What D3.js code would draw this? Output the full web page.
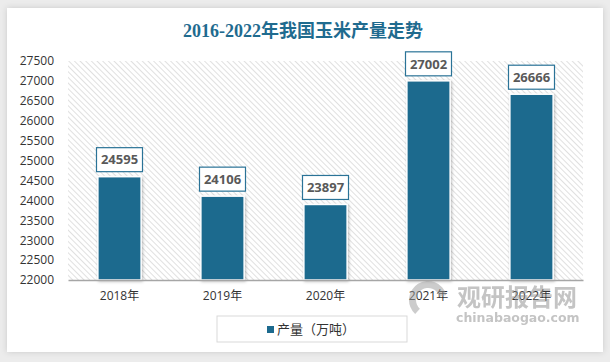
<!DOCTYPE html>
<html>
<head>
<meta charset="utf-8">
<script src="https://cdn.jsdelivr.net/npm/d3@7"></script>
<style>
  body { margin: 0; background: #ececec; }
  svg { display: block; }
</style>
</head>
<body>
<svg id="chart" width="610" height="362"></svg>
<script>
// data
var years = ["2018年", "2019年", "2020年", "2021年", "2022年"];
var output = [24595, 24106, 23897, 27002, 26666];
var yTicks = [22000, 22500, 23000, 23500, 24000, 24500, 25000, 25500, 26000, 26500, 27000, 27500];
var title = "2016-2022年我国玉米产量走势";
var seriesName = "产量（万吨）";

var svg = d3.select('#chart');
var margin = { top: 61, left: 68, bottom: 82, right: 27 };
var width = 610, height = 362;
var barColor = "#1c6a8e";

var defs = svg.append("defs");
var f = defs.append("filter").attr("id", "shadow").attr("x", "-10%").attr("y", "-10%").attr("width", "130%").attr("height", "130%");
f.append("feDropShadow").attr("dx", 1).attr("dy", 1).attr("stdDeviation", 1.5).attr("flood-color", "#000").attr("flood-opacity", 0.25);
var f2 = defs.append("filter").attr("id", "cardshadow").attr("x", "-5%").attr("y", "-5%").attr("width", "110%").attr("height", "110%");
f2.append("feDropShadow").attr("dx", 0).attr("dy", 0).attr("stdDeviation", 3).attr("flood-color", "#000").attr("flood-opacity", 0.15);

var pat = defs.append("pattern").attr("id", "hatch").attr("patternUnits", "userSpaceOnUse")
    .attr("width", 4).attr("height", 4).attr("patternTransform", "rotate(-45)");
pat.append("rect").attr("width", 4).attr("height", 4).attr("fill", "#ffffff");
pat.append("line").attr("x1", 0).attr("y1", 0).attr("x2", 0).attr("y2", 4)
    .attr("stroke", "#cfcfcf").attr("stroke-width", 1.3);

// card
svg.append("rect").attr("x", 7).attr("y", 8).attr("width", 596).attr("height", 344)
    .attr("fill", "#fff").attr("filter", "url(#cardshadow)");

svg.append("text")
    .attr("x", 303).attr("y", 37)
    .attr("text-anchor", "middle")
    .style("font-family", "'Liberation Serif', 'Noto Sans CJK SC', serif")
    .style("font-weight", "bold")
    .style("font-size", "18px")
    .style("fill", "#1f6b8f")
    .text(title);

var innerW = width - margin.left - margin.right;
var innerH = height - margin.top - margin.bottom;

var x = d3.scaleBand().domain(years).range([0, innerW]).paddingInner(0.58).paddingOuter(0.29);
var y = d3.scaleLinear().domain([22000, 27500]).range([innerH, 0]);

var g = svg.append("g").attr("transform", "translate(" + [margin.left, margin.top] + ")");

g.append("rect").attr("width", innerW).attr("height", innerH).attr("fill", "url(#hatch)");

// y axis labels
var yAxis = d3.axisLeft(y).tickValues(yTicks).tickSize(0).tickPadding(14).tickFormat(d3.format("d"));
var ya = g.append("g").call(yAxis);
ya.select(".domain").remove();
ya.selectAll("text").style("font-family", "'Open Sans', 'Noto Sans', sans-serif").style("font-size", "12px").style("fill", "#333");

// bars
g.selectAll(".bar")
    .data(output)
    .enter().append("rect")
    .attr("class", "bar")
    .attr("x", function (d, i) { return x(years[i]); })
    .attr("y", function (d) { return y(d); })
    .attr("width", x.bandwidth())
    .attr("height", function (d) { return innerH - y(d); })
    .attr("fill", barColor)
    .attr("stroke", "#fff")
    .attr("stroke-width", 1.5)
    .attr("filter", "url(#shadow)");

// x axis
var xAxis = d3.axisBottom(x).tickSize(0).tickPadding(11);
var xa = g.append("g").attr("transform", "translate(0," + innerH + ")").call(xAxis);
xa.select(".domain").attr("stroke", "#a6a6a6").attr("stroke-width", 1.5);
xa.selectAll("text").style("font-family", "'Open Sans', 'Noto Sans CJK SC', sans-serif").style("font-size", "12px").style("fill", "#333");

// value labels
var lab = g.selectAll(".lab").data(output).enter().append("g")
    .attr("transform", function (d, i) { return "translate(" + (x(years[i]) + x.bandwidth() / 2) + "," + (y(d) - 17) + ")"; });
lab.append("rect").attr("x", -23).attr("y", -12).attr("width", 46).attr("height", 24)
    .attr("fill", "#fff").attr("stroke", "#2a7397").attr("stroke-width", 1.2);
lab.append("text").attr("text-anchor", "middle").attr("dy", "0.36em")
    .style("font-family", "'Open Sans', sans-serif").style("font-weight", "bold")
    .style("font-size", "13px").style("fill", "#595959")
    .text(function (d) { return d; });

// watermark
var wm = svg.append("g").attr("opacity", 0.5);
wm.append("text").attr("x", 457).attr("y", 306)
    .style("font-family", "'Noto Sans CJK SC', sans-serif").style("font-weight", "bold")
    .style("font-size", "24px").style("fill", "#8a8a8a").text("观研报告网");
wm.append("text").attr("x", 456).attr("y", 322)
    .style("font-family", "'DejaVu Sans', sans-serif").style("font-weight", "bold")
    .style("font-size", "12.5px").style("fill", "#8a8a8a").text("chinabaogao.com");
wm.append("path")
    .attr("d", d3.arc()({ innerRadius: 12, outerRadius: 19, startAngle: -2.4, endAngle: 1.3 }))
    .attr("transform", "translate(428,300)").attr("fill", "#9a9a9a");

// legend
var lg = svg.append("g").attr("transform", "translate(217,316)");
lg.append("rect").attr("width", 190).attr("height", 26).attr("fill", "#fff").attr("stroke", "#d9d9d9");
lg.append("rect").attr("x", 50).attr("y", 10).attr("width", 7).attr("height", 7).attr("fill", barColor);
lg.append("text").attr("x", 60).attr("y", 13).attr("dy", "0.36em")
    .style("font-family", "'Noto Sans CJK SC', sans-serif").style("font-size", "13px").style("fill", "#333")
    .text(seriesName);
</script>
</body>
</html>
